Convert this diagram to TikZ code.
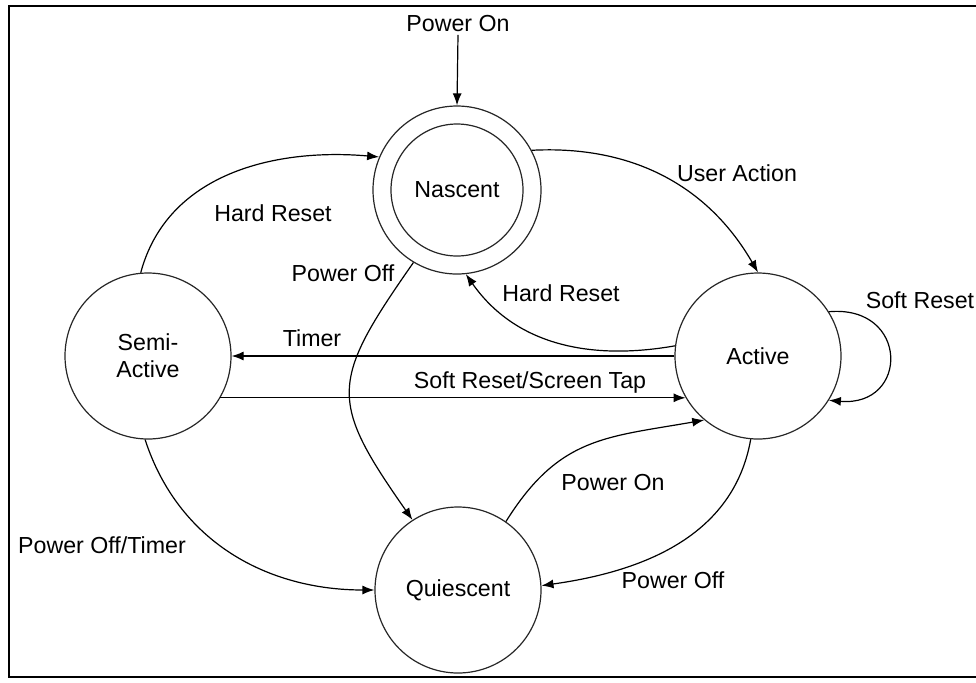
\documentclass[tikz,border=0pt]{standalone}
\usepackage{fontspec}
\setmainfont{Liberation Sans}
\usetikzlibrary{arrows.meta}

\begin{document}
\begin{tikzpicture}[x=0.5pt, y=0.5pt, line width=0.6pt,
>={Latex[length=6pt,width=4.5pt]},
statenode/.style={circle, draw=black!85, minimum size=83pt, inner sep=0pt, align=center, font=\fontsize{11.6}{13.5}\selectfont},
innernode/.style={circle, draw=black!85, minimum size=66pt, inner sep=0pt},
lbl/.style={inner sep=1pt, font=\fontsize{11.6}{13.5}\selectfont},
]
\useasboundingbox (0,0) rectangle (976,-682);
%Frame
\draw[line width=1.3pt] (976,-6) -- (9,-6) -- (9,-677) -- (976,-677);

%Nodes
\node[statenode, minimum size=84pt] (Nascent)   at (457,-190) {};
\node[innernode]                    (NascentIn) at (Nascent)  {};
\node[lbl]                          (NascentTxt) at (Nascent) {Nascent};
\node[statenode]      (Semi)       at (148,-356)  {Semi-\\Active};
\node[statenode]      (Active)     at (758,-356)  {Active};
\node[statenode]      (Quiescent)  at (458,-590)  {Quiescent};
\node[lbl]            (PowerOnTxt) at (458,-24)   {Power On};

%Lines
\draw[->] (PowerOnTxt.south) -- (Nascent.north);
\draw[->] (Semi.95) to[out=75, in=175] (Nascent.157)
          node[lbl] at (273,-213) {Hard Reset};
\draw[->] (Nascent.28) to[out=3, in=120] (Active.90)
          node[lbl] at (737,-173) {User Action};
\draw[->] (Active.173) to[out=190, in=-55] (Nascent.-84)
          node[lbl] at (561,-293) {Hard Reset};
\draw[->] (Active.180) -- (Semi.0)
          node[lbl] at (312,-338) {Timer};
\draw[->] (Semi.-30.4) -- (Active.210)
          node[lbl] at (530,-382) {Soft Reset/Screen Tap};
\draw[->] (Nascent.-121) to[out=-125, in=125, looseness=1.45] (Quiescent.123)
          node[lbl] at (343,-273) {Power Off};
\draw[->] (Active.32) to[out=5, in=-5, looseness=2.34] (Active.-32)
          node[lbl] at (920,-300) {Soft Reset};
\draw[->] (Semi.-92) to[out=-72, in=180] (Quiescent.180)
          node[lbl] at (102,-545) {Power Off/Timer};
\draw[->] (Quiescent.55) to[out=58, in=190, looseness=1.15] (Active.230)
          node[lbl] at (613,-483) {Power On};
\draw[->] (Active.-95) to[out=-100, in=8] (Quiescent.3)
          node[lbl] at (673,-580) {Power Off};
\end{tikzpicture}
\end{document}
